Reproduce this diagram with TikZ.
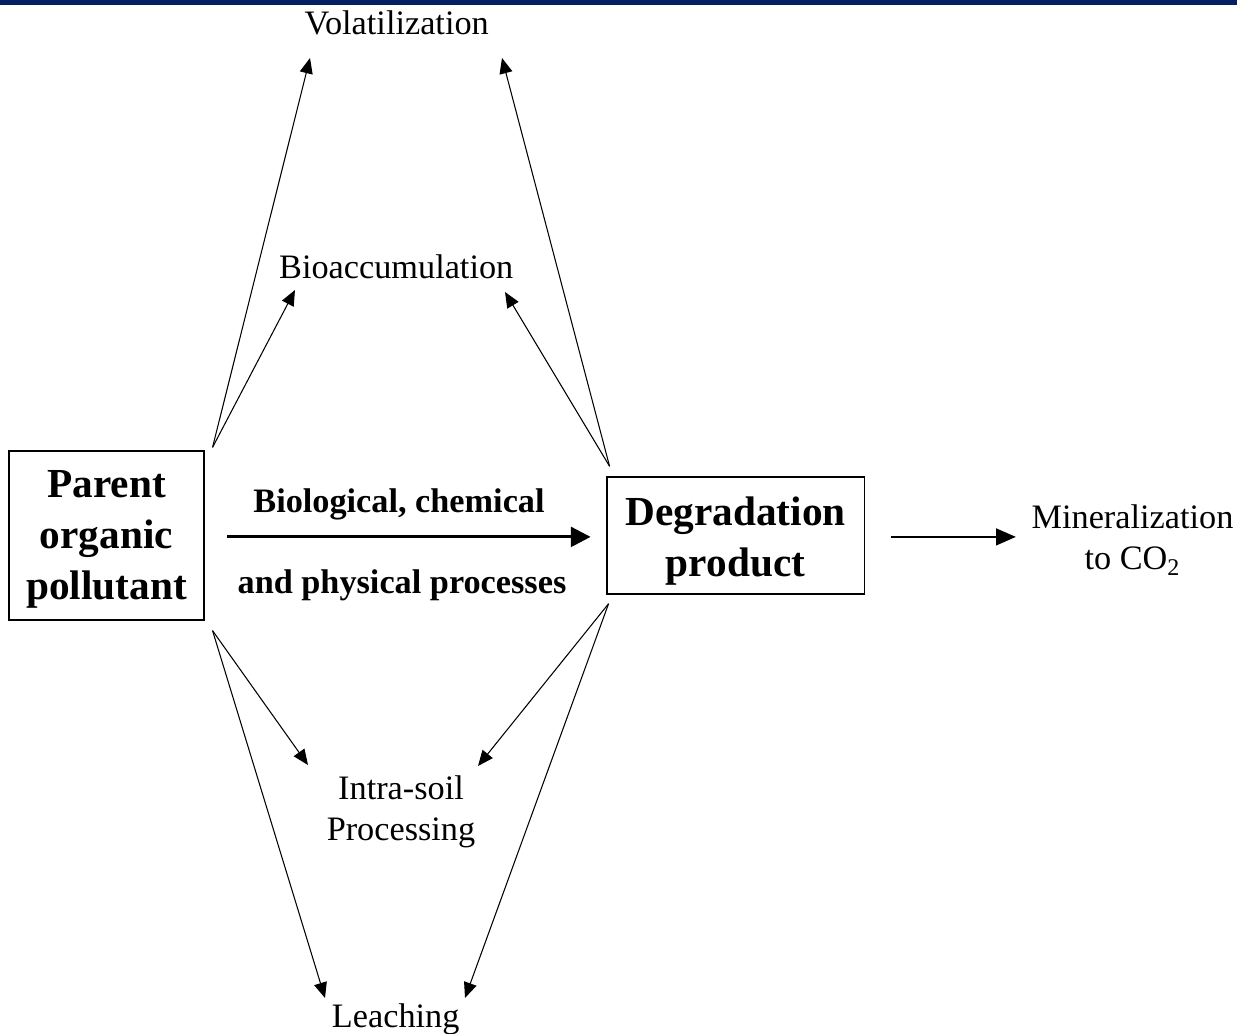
\documentclass[tikz,border=0pt]{standalone}
\usepackage{fontspec}
\setmainfont{Liberation Serif}
\usepackage{tikz}
\usetikzlibrary{
    arrows.meta,
    positioning,
    calc
}
\definecolor{BannerNavy}{RGB}{6,30,100}
\definecolor{InkBlack}{RGB}{0,0,0}

\begin{document}
\begin{tikzpicture}[
    x=0.02cm,
    y=-0.02cm,
%
    compound/.style={
        draw=InkBlack,
        line width=1.1pt,
        minimum width=110.5pt,
        minimum height=95.8pt,
        inner sep=0pt,
        align=center,
        font=\fontsize{23.5}{29}\selectfont\bfseries
    },
%
    fate/.style={
        inner sep=0pt,
        align=center,
        text=InkBlack,
        font=\fontsize{19.5}{23.3}\selectfont
    },
%
    process/.style={
        inner sep=0pt,
        anchor=base,
        text=InkBlack,
        font=\fontsize{19.5}{23.3}\selectfont\bfseries
    },
%
    pathway/.style={
        -{Triangle[length=8.8pt,width=7.4pt]},
        line width=0.6pt,
        color=InkBlack
    },
%
    transform/.style={
        -{Triangle[length=11.3pt,width=11.3pt]},
        line width=1.7pt,
        color=InkBlack
    },
%
    release/.style={
        -{Triangle[length=11.3pt,width=9.6pt]},
        line width=1.1pt,
        color=InkBlack
    }
]
\useasboundingbox (0,0) rectangle (1237,1034);
%
% Banner
%
\fill[BannerNavy] (0,0) rectangle (1237,5);
%
% Compounds
%
\node[compound] (parent) at (106.5,535.5) {
    \rule{0pt}{20.1pt}Parent\\
    organic\\
    pollutant
};
%
\node[
    compound,
    minimum width=146.8pt,
    minimum height=66.3pt
] (degradation) at (735.5,535.5) {
    \rule{0pt}{22.1pt}Degradation\\
    product
};
%
\draw[
    transform,
    shorten <=13pt,
    shorten >=8.5pt
] ([yshift=-0.8pt]parent.east) -- ([yshift=-0.8pt]parent.east -| degradation.west);
%
\node[process] (biological) at (399,512) {
    Biological, chemical
};
%
\node[process] (physical) at (402,593) {
    and physical processes
};
%
% Fates
%
\node[fate, anchor=base] (volatilization) at (401,35) {
    Volatilization
};
%
\node[fate, anchor=base] (bioaccumulation) at (400.5,278) {
    Bioaccumulation
};
%
\node[fate] (intrasoil) at (401,812) {
    Intra-soil\\
    Processing
};
%
\node[fate, anchor=base] (leaching) at (400,1027) {
    Leaching
};
%
\node[fate] (mineralization) at (1132.5,540) {
    Mineralization\\
    to CO\textsubscript{2}
};
%
\coordinate (volatilization-l) at (310,58);
\coordinate (volatilization-r) at (502,58);
\coordinate (bioaccumulation-l) at (295,290);
\coordinate (bioaccumulation-r) at (505,292);
\coordinate (intrasoil-l) at (308,765);
\coordinate (intrasoil-r) at (478,766);
\coordinate (leaching-l) at (325,998);
\coordinate (leaching-r) at (465,998);
%
% Parent pathways
%
\draw[pathway] ([shift={(8,-3)}]parent.north east) -- (volatilization-l);
\draw[pathway] ([shift={(8,-3)}]parent.north east) -- (bioaccumulation-l);
\draw[pathway] ([shift={(8,10)}]parent.south east) -- (intrasoil-l);
\draw[pathway] ([shift={(8,10)}]parent.south east) -- (leaching-l);
%
% Product pathways
%
\draw[pathway] ([shift={(4,-10)}]degradation.north west) -- (volatilization-r);
\draw[pathway] ([shift={(4,-10)}]degradation.north west) -- (bioaccumulation-r);
\draw[pathway] ([shift={(3,9)}]degradation.south west) -- (intrasoil-r);
\draw[pathway] ([shift={(3,9)}]degradation.south west) -- (leaching-r);
%
\draw[
    release,
    shorten <=14.7pt,
    shorten >=8.8pt
] ([yshift=-0.8pt]degradation.east) -- ([yshift=-0.8pt]degradation.east -| mineralization.west);
%
\end{tikzpicture}
\end{document}
